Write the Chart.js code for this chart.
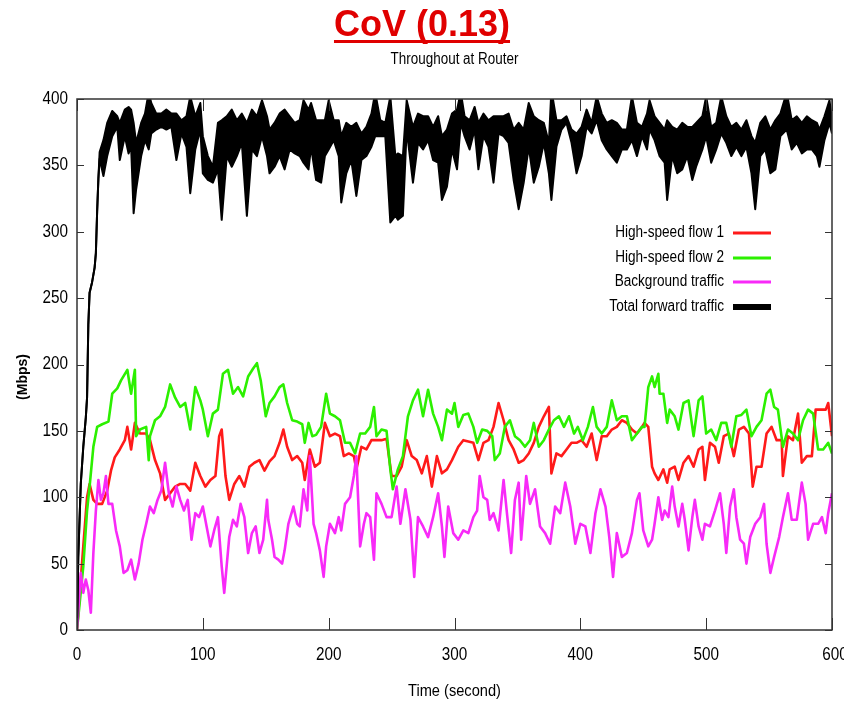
<!DOCTYPE html>
<html>
<head>
<meta charset="utf-8">
<script src="https://cdn.jsdelivr.net/npm/chart.js@4.4.1/dist/chart.umd.min.js"></script>
<style>
  html, body { margin: 0; padding: 0; background: #fff; }
  #wrap { width: 844px; height: 705px; }
</style>
</head>
<body>
<div id="wrap"><canvas id="tputChart" width="844" height="705"></canvas></div>
<script>
// values (time in s, throughput in Mbps)
const xTickValues = [0, 100, 200, 300, 400, 500, 600];
const yTickValues = [0, 50, 100, 150, 200, 250, 300, 350, 400];

const flow1Time = [0,5,8,10,13,16,20,24,27,30,34,38,40,43,46,50,55,58,62,66,70,74,78,82,86,90,94,98,102,106,110,113,115,118,121,125,129,133,137,141,145,149,153,157,161,164,167,171,175,179,181,185,189,193,197,201,205,209,212,216,220,222,226,230,234,238,242,246,250,254,258,262,266,270,274,278,282,286,290,294,298,303,307,311,315,319,323,327,331,335,339,343,347,351,355,359,363,367,371,375,377,381,385,389,393,397,401,405,409,413,417,421,425,429,433,437,441,445,449,451,454,457,459,462,466,469,471,475,478,482,486,490,494,497,499,503,507,510,514,518,522,526,530,534,537,540,544,548,552,556,560,561,565,569,573,576,580,584,587,591,595,597,600];
const flow1Mbps = [0,63,100,110,98,95,95,105,120,130,136,143,153,136,156,148,148,143,128,118,98,103,108,110,110,105,126,116,108,113,116,146,151,116,98,110,116,108,123,126,128,120,127,131,141,151,138,128,131,126,113,136,123,126,156,146,148,146,131,133,131,121,138,136,143,143,143,144,116,116,123,143,131,128,118,131,108,131,118,121,128,138,143,142,141,128,141,143,153,171,158,143,136,126,128,133,141,153,161,168,118,133,131,136,141,141,143,138,148,128,146,146,151,153,158,156,151,148,153,156,153,123,118,113,121,111,121,123,113,126,131,123,136,138,113,141,138,126,146,148,131,151,153,148,108,123,123,148,153,143,143,116,146,143,163,126,131,131,166,166,166,171,146];

const flow2Time = [0,5,8,10,13,16,20,25,28,32,35,40,43,46,47,50,55,57,58,62,66,70,74,78,82,86,90,94,98,100,104,108,112,116,120,124,128,132,136,140,143,146,150,153,157,161,164,167,171,175,179,181,184,187,190,194,198,201,205,209,213,217,221,225,229,233,236,238,242,246,249,251,255,259,263,267,271,275,279,283,287,290,294,298,300,303,307,311,315,318,322,326,330,332,336,340,344,348,352,356,360,363,367,371,375,379,383,387,391,395,398,402,406,410,413,417,421,425,429,433,437,441,445,449,451,454,457,459,462,463,466,469,471,475,478,482,486,490,494,497,500,504,508,512,516,520,524,528,532,536,540,544,548,551,554,557,561,565,569,573,577,581,585,589,593,597,600];
const flow2Mbps = [0,48,90,108,138,153,155,157,178,182,188,196,178,196,146,151,153,128,146,158,161,168,185,175,168,171,151,183,173,166,146,163,166,193,196,178,183,176,191,197,201,188,161,171,176,183,185,171,158,157,155,141,156,146,147,153,178,163,161,158,141,141,133,148,148,153,168,146,151,150,121,106,121,131,161,173,181,161,181,163,153,143,166,163,171,153,162,163,153,141,151,150,146,128,133,153,158,146,143,138,143,156,138,143,151,158,161,153,161,148,153,143,153,168,153,148,153,173,158,161,161,143,148,153,153,183,191,183,193,178,178,156,166,161,151,171,173,146,173,176,148,151,143,156,156,138,161,162,166,146,153,158,178,181,168,166,138,151,148,143,158,166,163,136,136,141,133];

const bgTime = [0,3,5,7,9,11,13,15,17,19,21,23,25,28,31,34,37,40,43,46,49,52,55,58,61,64,67,70,73,76,79,82,85,88,91,94,97,100,103,106,109,112,115,117,121,124,127,130,133,136,139,142,145,148,151,152,155,157,160,163,165,168,172,175,177,180,183,185,188,190,193,196,198,201,205,208,210,213,217,220,222,225,228,230,233,236,238,242,246,250,254,257,261,265,268,271,275,279,283,287,290,292,295,299,303,307,311,315,318,320,323,326,328,331,335,339,342,345,348,351,353,357,360,364,368,372,376,380,384,388,392,396,400,404,408,412,416,420,423,426,429,433,437,441,445,447,450,454,457,459,462,465,467,470,473,475,478,481,483,486,489,491,494,497,499,503,507,511,514,516,519,522,524,527,530,532,535,539,543,546,548,551,554,558,561,565,568,572,576,579,581,585,589,592,595,597,600];
const bgMbps = [0,43,28,38,30,13,58,90,113,98,103,116,95,95,75,63,43,45,53,38,50,68,80,93,88,98,105,126,103,93,108,98,90,98,68,88,85,93,78,63,75,85,48,28,70,83,78,95,85,58,73,78,58,68,98,83,68,55,53,50,60,80,93,80,78,106,90,131,80,73,60,40,63,80,73,85,75,95,100,116,131,63,80,88,85,53,103,95,85,85,108,80,106,83,40,85,78,70,85,103,78,55,93,73,68,75,73,85,90,116,100,98,83,88,75,113,85,58,98,111,68,116,95,106,78,73,65,93,88,111,93,65,80,78,58,88,106,93,70,40,73,55,58,73,98,103,75,63,68,80,100,83,90,85,108,93,78,95,83,60,85,98,78,68,80,78,90,103,80,58,93,106,85,68,65,50,70,80,85,95,65,43,55,70,85,103,83,83,111,95,68,80,80,85,73,88,103];

// total forward traffic: upper and lower edge of the dense black band
const totalTime = [0,1,3,5,7,8,9,10,12,14,15,16,17,18,21,24,28,32,34,38,41,43,45,47,51,54,57,59,63,67,71,75,79,83,87,90,94,98,100,104,108,112,115,119,123,127,131,135,139,143,147,151,153,157,161,165,169,173,177,180,184,186,190,194,197,200,204,208,210,214,218,222,226,230,234,237,241,245,249,253,255,259,262,267,271,275,279,283,287,290,294,298,302,305,308,312,316,319,323,327,331,335,339,343,347,351,355,359,363,367,371,375,377,381,385,389,393,397,401,405,409,413,417,421,425,429,433,437,441,445,449,453,455,459,463,467,469,473,477,481,485,489,492,497,500,504,508,512,516,520,524,528,532,536,539,543,547,551,555,559,564,568,572,576,580,584,588,590,594,598,600];
const totalHigh = [0,55,110,138,160,175,230,254,262,273,284,315,340,360,369,382,391,387,382,392,394,392,382,367,382,389,405,397,389,389,392,389,389,384,387,402,387,397,372,357,349,382,384,387,392,384,389,382,392,387,399,387,377,382,389,392,387,382,384,399,392,397,384,384,384,399,384,384,372,382,379,382,374,379,389,405,384,382,402,357,359,357,399,379,389,387,387,379,387,372,377,389,392,405,387,384,394,382,389,384,387,387,387,389,377,382,377,397,387,384,382,367,407,384,384,387,377,374,379,392,382,402,389,382,384,382,377,377,402,382,379,389,399,387,382,377,384,379,377,382,379,379,382,387,402,379,382,402,387,379,382,377,384,372,367,382,387,377,384,389,405,384,387,382,387,384,382,377,387,399,384];
const totalLow = [0,55,110,138,160,175,230,254,262,273,284,315,340,355,342,357,372,379,354,372,359,364,314,332,357,369,362,374,377,379,377,379,354,374,364,329,362,377,344,339,337,347,309,357,349,357,367,312,362,357,372,357,344,349,357,347,362,359,357,352,347,364,339,337,357,362,369,357,322,344,354,327,354,357,364,372,372,372,307,312,309,312,377,337,367,362,369,354,352,324,334,362,347,382,372,362,377,347,372,364,337,374,372,367,339,317,337,364,337,349,367,344,324,364,377,382,367,344,357,379,374,384,369,362,357,352,362,362,369,357,372,362,377,369,357,352,324,357,344,347,357,339,349,362,372,352,362,374,367,357,364,357,364,344,317,357,362,344,347,372,377,362,367,359,362,362,357,349,369,382,374];

const seriesNames = ['High-speed flow 1', 'High-speed flow 2', 'Background traffic', 'Total forward traffic'];
const seriesColors = ['#ff1a1a', '#2cf000', '#f82af8', '#000000'];

const toPoints = (ts, vs) => ts.map((t, i) => ({ x: t, y: vs[i] }));

// Arial-like face squeezed horizontally, the reference uses a narrow Helvetica
const FACE = "'Liberation Sans', Arial, sans-serif";
function narrowText(ctx, text, x, y, size, squeeze, align) {
    ctx.save();
    ctx.font = size + 'px ' + FACE;
    ctx.textAlign = align;
    ctx.textBaseline = 'middle';
    ctx.translate(x, y);
    ctx.scale(squeeze, 1);
    ctx.fillText(text, 0, 0);
    ctx.restore();
}

const decorPlugin = {
    id: 'decor',
    afterDraw(chart) {
        const ctx = chart.ctx;
        const a = chart.chartArea;
        const xs = chart.scales.x, ys = chart.scales.y;
        ctx.save();

        // inward tick marks on all four sides
        ctx.strokeStyle = '#333';
        ctx.lineWidth = 1;
        xTickValues.forEach(v => {
            const px = Math.round(xs.getPixelForValue(v)) + 0.5;
            ctx.beginPath();
            ctx.moveTo(px, a.bottom); ctx.lineTo(px, a.bottom - 12);
            ctx.moveTo(px, a.top); ctx.lineTo(px, a.top + 12);
            ctx.stroke();
        });
        yTickValues.forEach(v => {
            const py = Math.round(ys.getPixelForValue(v)) + 0.5;
            ctx.beginPath();
            ctx.moveTo(a.left, py); ctx.lineTo(a.left + 7, py);
            ctx.moveTo(a.right, py); ctx.lineTo(a.right - 7, py);
            ctx.stroke();
        });

        // frame
        ctx.lineWidth = 1.5;
        ctx.strokeRect(a.left, a.top, a.right - a.left, a.bottom - a.top);

        // tick labels
        ctx.fillStyle = '#000';
        xTickValues.forEach(v => narrowText(ctx, String(v), xs.getPixelForValue(v) + (v === 600 ? 3 : 0), 655, 18, 0.85, 'center'));
        yTickValues.forEach(v => narrowText(ctx, String(v), 68, ys.getPixelForValue(v), 18, 0.85, 'right'));

        // legend, gnuplot style: text right-aligned, sample on the right
        const rowY = [233, 258, 282, 307];
        seriesNames.forEach((name, i) => {
            ctx.fillStyle = '#000';
            narrowText(ctx, name, 724, rowY[i], 16, 0.85, 'right');
            ctx.strokeStyle = seriesColors[i];
            ctx.lineWidth = i === 3 ? 6 : 3;
            ctx.beginPath();
            ctx.moveTo(733, rowY[i]); ctx.lineTo(771, rowY[i]);
            ctx.stroke();
        });

        // big red title with underline
        ctx.font = 'bold 36px ' + FACE;
        ctx.textAlign = 'center';
        ctx.textBaseline = 'alphabetic';
        ctx.fillStyle = '#e00000';
        const title = 'CoV (0.13)';
        ctx.fillText(title, 422, 36);
        const tw = ctx.measureText(title).width;
        ctx.fillRect(422 - tw / 2, 40, tw, 3);

        // subtitle centred on the plot, axis titles
        const midX = (a.left + a.right) / 2;
        ctx.fillStyle = '#000';
        narrowText(ctx, 'Throughout at Router', midX, 60, 16, 0.84, 'center');
        narrowText(ctx, 'Time (second)', midX, 691, 17, 0.86, 'center');

        ctx.translate(23, 377);
        ctx.rotate(-Math.PI / 2);
        ctx.font = 'bold 14px ' + FACE;
        ctx.textAlign = 'center';
        ctx.textBaseline = 'middle';
        ctx.fillText('(Mbps)', 0, 0);
        ctx.restore();
    }
};

const ctx = document.getElementById('tputChart').getContext('2d');
new Chart(ctx, {
    type: 'line',
    data: {
        datasets: [
            { label: seriesNames[3], data: toPoints(totalTime, totalHigh), borderColor: '#000', borderWidth: 2,
              fill: '+1', backgroundColor: '#000', order: 0 },
            { label: seriesNames[3] + ' (low edge)', data: toPoints(totalTime, totalLow), borderColor: '#000', borderWidth: 2, order: 0 },
            { label: seriesNames[2], data: toPoints(bgTime, bgMbps), borderColor: seriesColors[2], borderWidth: 2.6, order: 1 },
            { label: seriesNames[1], data: toPoints(flow2Time, flow2Mbps), borderColor: seriesColors[1], borderWidth: 2.6, order: 2 },
            { label: seriesNames[0], data: toPoints(flow1Time, flow1Mbps), borderColor: seriesColors[0], borderWidth: 2.6, order: 3 }
        ]
    },
    options: {
        responsive: false,
        animation: false,
        events: [],
        layout: { padding: { top: 99, right: 12, bottom: 0, left: 0 } },
        elements: {
            point: { radius: 0 },
            line: { tension: 0, borderJoinStyle: 'round', borderCapStyle: 'butt' }
        },
        plugins: {
            legend: { display: false },
            title: { display: false },
            tooltip: { enabled: false },
            filler: { propagate: false }
        },
        scales: {
            x: {
                type: 'linear',
                min: 0,
                max: 600,
                afterBuildTicks: scale => { scale.ticks = xTickValues.map(v => ({ value: v })); },
                afterFit: scale => { scale.height = 75; scale.paddingLeft = 0; scale.paddingRight = 0; },
                grid: { display: false, drawTicks: false },
                border: { display: false },
                ticks: { display: false }
            },
            y: {
                type: 'linear',
                min: 0,
                max: 400,
                afterBuildTicks: scale => { scale.ticks = yTickValues.map(v => ({ value: v })); },
                afterFit: scale => { scale.width = 77; scale.paddingTop = 0; scale.paddingBottom = 0; },
                grid: { display: false, drawTicks: false },
                border: { display: false },
                ticks: { display: false }
            }
        }
    },
    plugins: [decorPlugin]
});
</script>
</body>
</html>
